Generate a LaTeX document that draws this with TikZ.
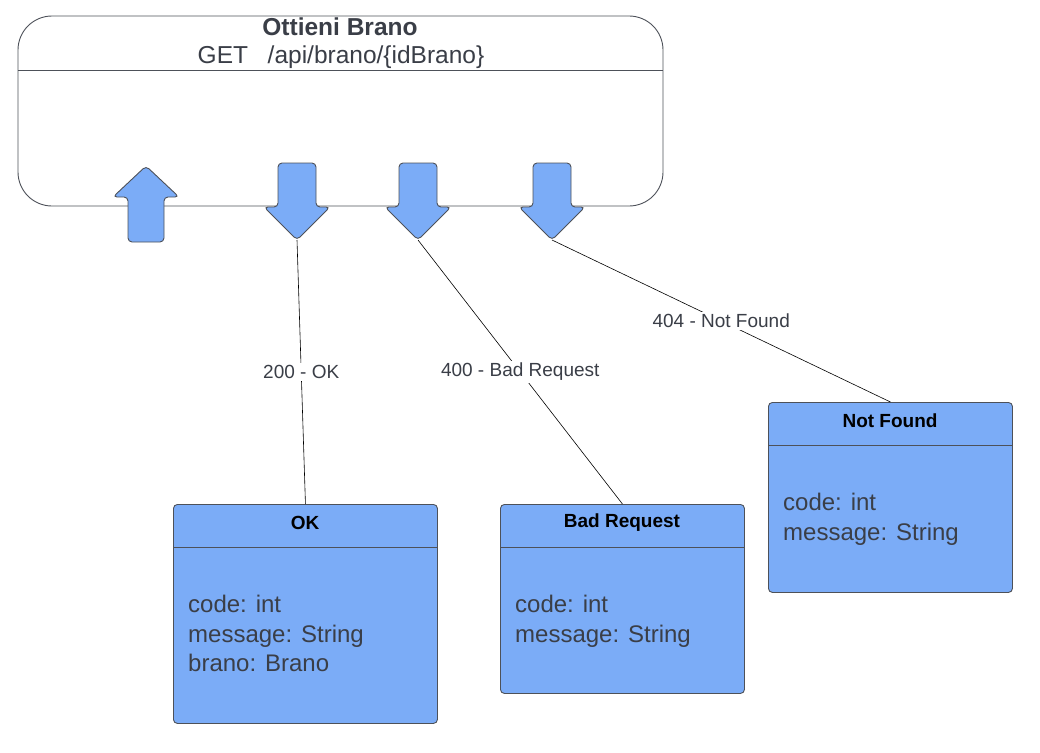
\documentclass[tikz,border=0pt]{standalone}
\usepackage{fontspec}
\setmainfont{Liberation Sans}
\usetikzlibrary{arrows}

\definecolor{boxblue}{HTML}{7BACF7}
\definecolor{edgegray}{HTML}{4D5159}
\definecolor{txtgray}{HTML}{3A3E47}

\tikzset{
  respbox/.style={draw=edgegray, fill=boxblue, line width=0.9pt, rounded corners=4pt, anchor=north west, inner sep=0pt},
  resptitle/.style={font=\fontsize{19}{22}\selectfont\bfseries, text=black},
  respbody/.style={font=\fontsize{24}{29.5}\selectfont, text=txtgray, align=left, anchor=north west, inner sep=0pt},
  tab/.style={draw=edgegray, fill=boxblue, line width=0.9pt, rounded corners=4pt},
  lbl/.style={fill=white, font=\fontsize{19}{22}\selectfont, text=txtgray, inner sep=2pt}
}

% down arrow tab: center x, top y
\newcommand{\dntab}[3]{%
  \draw[tab] (#1-19,#2) -- (#1+19,#2) -- (#1+19,#2+44) -- (#1+33,#2+44)
    -- (#1,#2+77) -- (#1-33,#2+44) -- (#1-19,#2+44) -- cycle;
  \coordinate (#3) at (#1,#2+77);}

\begin{document}
\begin{tikzpicture}[x=1pt,y=-1pt]
  \useasboundingbox (0,0) rectangle (1040,752);

  % endpoint box
  \draw[draw=edgegray, line width=0.9pt, rounded corners=34pt]
    (18,16) rectangle (663,206);
  \draw[edgegray, line width=0.9pt] (18,70) -- (663,70);
  \node[font=\fontsize{24.5}{28}\selectfont\bfseries, text=txtgray] (title) at (340,27) {Ottieni Brano};
  \node[font=\fontsize{24.5}{28}\selectfont, text=txtgray] (route) at (341,57) {GET\hspace{0.8em}/api/brano/\{idBrano\}};

  % tabs
  \draw[tab] (128,242) -- (164,242) -- (164,197) -- (179,197)
    -- (146,166) -- (113,197) -- (128,197) -- cycle;
  \dntab{297}{163}{t200}
  \dntab{418}{163}{t400}
  \dntab{552}{163}{t404}

  % responses
  \node[respbox, minimum width=264pt, minimum height=219pt] (ok) at (173,504) {};
  \draw[edgegray, line width=0.9pt] (173,547) -- (437,547);
  \node[resptitle] (okt) at (305,523) {OK};
  \node[respbody] (okb) at (188,595) {code: int\\message: String\\brano: Brano};

  \node[respbox, minimum width=244pt, minimum height=189pt] (bad) at (500,504) {};
  \draw[edgegray, line width=0.9pt] (500,547) -- (744,547);
  \node[resptitle] (badt) at (622,523) {Bad Request};
  \node[respbody] (badb) at (515,595) {code: int\\message: String};

  \node[respbox, minimum width=244pt, minimum height=190pt] (nf) at (768,402) {};
  \draw[edgegray, line width=0.9pt] (768,445) -- (1012,445);
  \node[resptitle] (nft) at (890,421) {Not Found};
  \node[respbody] (nfb) at (783,493) {code: int\\message: String};

  \path[-, draw=black, line width=0.6pt]
    (t200) edge node[lbl] {200 - OK} (ok.north)
    (t400) edge node[lbl] {400 - Bad Request} (bad.north)
    (t404) edge node[lbl, pos=0.5] {404 - Not Found} (nf.north);
\end{tikzpicture}
\end{document}
